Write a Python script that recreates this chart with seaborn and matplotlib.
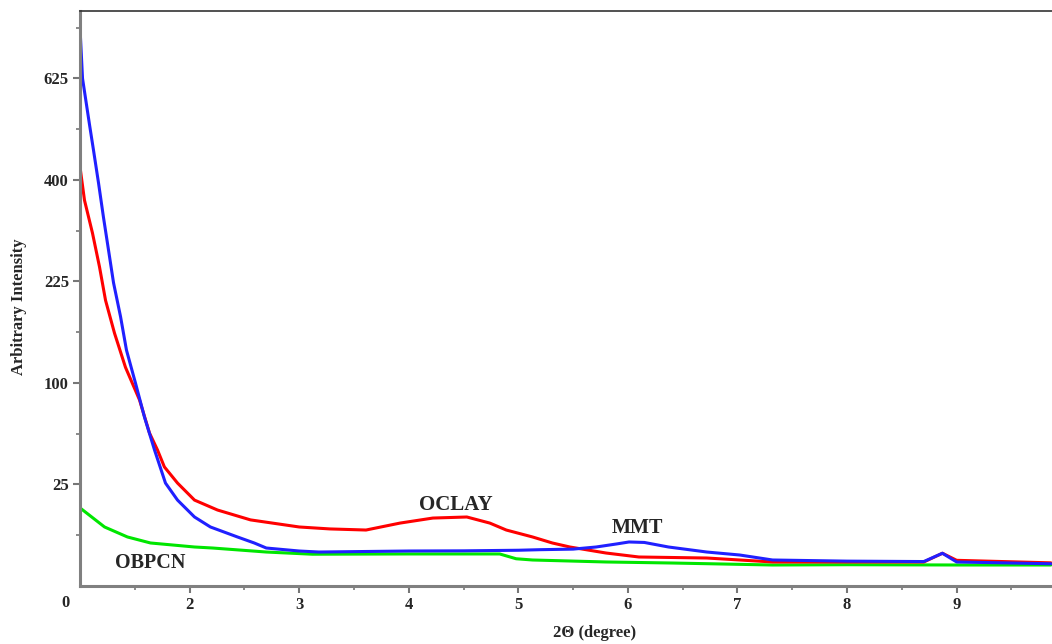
import numpy as np
import pandas as pd
import matplotlib
matplotlib.use("Agg")
import matplotlib.pyplot as plt
import seaborn as sns

# ---- data ----
mmt_x = [1.0, 1.023, 1.087, 1.123, 1.169, 1.214, 1.26, 1.306, 1.37, 1.424, 1.506, 1.588, 1.68, 1.78,
         1.89, 2.045, 2.19, 2.437, 2.59, 2.70, 3.0, 3.18, 4.0, 4.5, 5.0, 5.2, 5.5, 5.71, 5.9, 6.01,
         6.15, 6.37, 6.72, 7.02, 7.32, 8.0, 8.7, 8.87, 9.0, 9.86]
mmt_y = [756, 625, 516, 461, 394, 330, 274, 223, 176, 135, 100, 69.3, 44.9, 25.7,
         17.9, 11.55, 8.45, 5.83, 4.49, 3.5, 2.97, 2.80, 2.97, 3.0, 3.1, 3.2, 3.3, 3.69, 4.3, 4.7,
         4.6, 3.69, 2.80, 2.33, 1.64, 1.5, 1.45, 2.6, 1.4, 1.2]

oclay_x = [1.0, 1.041, 1.114, 1.178, 1.233, 1.315, 1.415, 1.543, 1.634, 1.707, 1.77, 1.89, 2.045,
           2.255, 2.556, 3.0, 3.28, 3.61, 3.92, 4.22, 4.53, 4.74, 4.89, 5.13, 5.31, 5.47, 5.80,
           6.10, 6.72, 7.02, 7.32, 8.0, 8.7, 8.87, 9.0, 9.86]
oclay_y = [426, 361, 302, 247, 198, 155, 116, 84, 56.8, 44.9, 34.4, 25.7, 17.9,
           14.0, 10.6, 8.45, 7.9, 7.6, 9.6, 11.2, 11.55, 9.6, 7.6, 5.83, 4.49, 3.69, 2.64,
           2.04, 1.90, 1.64, 1.40, 1.4, 1.4, 2.6, 1.6, 1.3]

obpcn_x = [1.0, 1.224, 1.433, 1.643, 2.045, 2.21, 2.70, 3.12, 4.0, 4.83, 4.98, 5.13, 5.80, 6.41,
           7.32, 8.0, 9.0, 9.86]
obpcn_y = [14.8, 8.45, 5.83, 4.49, 3.69, 3.5, 2.8, 2.45, 2.49, 2.49, 1.80, 1.64, 1.40, 1.28,
           1.07, 1.1, 1.07, 1.07]

series_colors = {"MMT": "#2020ff", "OCLAY": "#ff0000", "OBPCN": "#00e600"}
y_ticks = [25, 100, 225, 400, 625]
x_ticks = [2, 3, 4, 5, 6, 7, 8, 9]

df = pd.concat([
    pd.DataFrame({"x": mmt_x, "y": mmt_y, "s": "MMT"}),
    pd.DataFrame({"x": oclay_x, "y": oclay_y, "s": "OCLAY"}),
    pd.DataFrame({"x": obpcn_x, "y": obpcn_y, "s": "OBPCN"}),
], ignore_index=True)

sns.set_style("ticks")
plt.rcParams["font.family"] = ["Liberation Serif", "DejaVu Serif"]

fig = plt.figure(figsize=(10.52, 6.44), dpi=100)
ax = fig.add_axes([80 / 1052, 1 - 586 / 644, 972 / 1052, (586 - 11) / 644])

sns.lineplot(data=df, x="x", y="y", hue="s", palette=series_colors, hue_order=["OBPCN", "OCLAY", "MMT"],
             sort=False, estimator=None, linewidth=2.2, legend=False, ax=ax)

ax.set_yscale("function", functions=(lambda v: np.sqrt(np.clip(v, 0, None)), lambda v: np.square(v)))
ax.set_ylim(0, 802)
ax.set_xlim(1.0, 9.87)

ax.set_yticks(y_ticks)
ax.set_yticklabels([str(t) for t in y_ticks], fontweight="bold", fontsize=12)
ax.set_yticks([2.5 ** 2, 7.5 ** 2, 12.5 ** 2, 17.5 ** 2, 22.5 ** 2, 27.5 ** 2], minor=True)
ax.set_xticks(x_ticks)
ax.set_xticklabels([str(t) for t in x_ticks], fontweight="bold", fontsize=12)
ax.set_xticks([1.5, 2.5, 3.5, 4.5, 5.5, 6.5, 7.5, 8.5, 9.5], minor=True)

ax.tick_params(axis="both", which="major", direction="out", length=5, width=1.5, color="#777777", pad=3)
ax.tick_params(axis="both", which="minor", direction="out", length=3, width=1.2, color="#777777")

for side in ["left", "bottom"]:
    ax.spines[side].set_color("#808080")
    ax.spines[side].set_linewidth(2.2)
ax.spines["top"].set_color("#333333")
ax.spines["top"].set_linewidth(1.2)
ax.spines["right"].set_visible(False)

ax.set_xlabel("2\u0398 (degree)", fontweight="bold", fontsize=12)
ax.xaxis.set_label_coords((595 - 80) / 972, -39 / 575)
ax.set_ylabel("Arbitrary Intensity", fontweight="bold", fontsize=12)
ax.yaxis.set_label_coords(-53 / 972, (586 - 307) / 575)

ax.text(-15 / 972, -17 / 575, "0", transform=ax.transAxes, ha="center", va="center",
        fontweight="bold", fontsize=12)

ax.text(4.43, 15.9, "OCLAY", ha="center", va="center", fontweight="bold", fontsize=15)
ax.text(6.09, 8.16, "MMT", ha="center", va="center", fontweight="bold", fontsize=14.5)
ax.text(1.645, 1.28, "OBPCN", ha="center", va="center", fontweight="bold", fontsize=14.5)

fig.savefig("out.png", dpi=100)
